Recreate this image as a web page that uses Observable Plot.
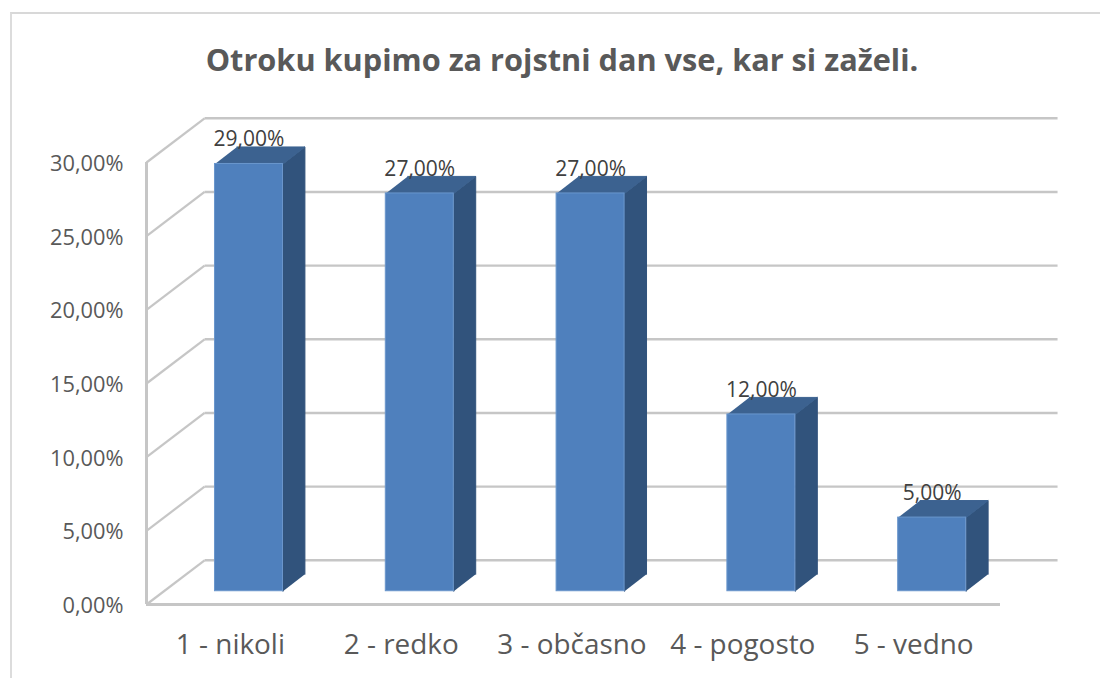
<!DOCTYPE html>
<html><head><meta charset="utf-8">
<script src="https://cdn.jsdelivr.net/npm/d3@7"></script>
<script src="https://cdn.jsdelivr.net/npm/@observablehq/plot@0.6"></script>
<style>
html,body{margin:0;background:#fff;overflow:hidden}
#frame{position:absolute;left:10px;top:12px;right:0;bottom:0;border-left:2px solid #dcdcdc;border-top:2px solid #d8d8d8}
#chart{position:absolute;left:0;top:0}
#chart svg{background:transparent;display:block}
#title{position:absolute;left:0;top:38px;width:1124px;text-align:center;font:700 30.7px "Open Sans",sans-serif;color:#595959;white-space:nowrap}
</style></head>
<body>
<div id="frame"></div>
<div id="chart"></div>
<div id="title"></div>
<script>
const titleText = "Otroku kupimo za rojstni dan vse, kar si zaželi.";
const categories = ["1 - nikoli","2 - redko","3 - občasno","4 - pogosto","5 - vedno"];
const values = [29,27,27,12,5];
const valueLabels = ["29,00%","27,00%","27,00%","12,00%","5,00%"];
const yTicks = [0,5,10,15,20,25,30];
const yTickLabels = ["0,00%","5,00%","10,00%","15,00%","20,00%","25,00%","30,00%"];

const grid = "#c6c6c6", font = "Open Sans, sans-serif";
const wallX = 0.34, wallY = 3, wallEnd = 5.334;      // depth of the back wall
const shiftX = 0.1, shiftY = 0.9, half = 0.199;      // bar position inside the floor
const depthX = 0.1285, depthY = 1.156;               // depth of a bar

const bars = categories.map((c,i)=>({c,i,v:values[i],label:valueLabels[i],
  l:i+0.5+shiftX-half, r:i+0.5+shiftX+half, b:shiftY, t:values[i]+shiftY}));
const topFaces = bars.flatMap(d=>[[d.l,d.t],[d.r,d.t],[d.r+depthX,d.t+depthY],[d.l+depthX,d.t+depthY]].map(([x,y])=>({x,y,z:d.c})));
const sideFaces = bars.flatMap(d=>[[d.r,d.b],[d.r,d.t],[d.r+depthX,d.t+depthY],[d.r+depthX,d.b+depthY]].map(([x,y])=>({x,y,z:d.c})));

const plot = Plot.plot({
  width:1100, height:678,
  marginLeft:146, marginRight:100, marginTop:162, marginBottom:74,
  style:{background:"transparent"},
  x:{type:"linear", domain:[0,5]},
  y:{domain:[0,30]},
  marks:[
    Plot.axisY({ticks:yTicks, tickFormat:(d)=>yTickLabels[yTicks.indexOf(d)], tickSize:0, tickPadding:23, dy:1.5, fontSize:21.8, fontFamily:font, color:"#595959", label:null}),
    Plot.axisX({ticks:categories.map((c,i)=>i+0.5), tickFormat:(d)=>categories[d-0.5], tickSize:0, tickPadding:30, dx:-1.5, fontSize:27.9, fontFamily:font, color:"#595959", label:null}),
    Plot.link(yTicks,{x1:wallX, x2:wallEnd, y1:d=>d+wallY, y2:d=>d+wallY, stroke:grid, strokeWidth:2.4}),
    Plot.link(yTicks,{x1:0, x2:wallX, y1:d=>d, y2:d=>d+wallY, stroke:grid, strokeWidth:2.2}),
    Plot.ruleX([0],{y1:0,y2:30,stroke:grid,strokeWidth:3}),
    Plot.ruleY([0],{x1:0,x2:5,stroke:grid,strokeWidth:3}),
    Plot.line(sideFaces,{x:"x",y:"y",z:"z",fill:"#31537c",stroke:"#31537c",strokeWidth:1,curve:"linear"}),
    Plot.line(topFaces,{x:"x",y:"y",z:"z",fill:"#3c6290",stroke:"#3c6290",strokeWidth:1,curve:"linear"}),
    Plot.rect(bars,{x1:"l",x2:"r",y1:"b",y2:"t",fill:"#4f80bd",stroke:"#6a96cc",strokeWidth:1}),
    Plot.text(bars,{x:d=>(d.l+d.r)/2,y:"t",text:"label",dy:-24.5,fontSize:21,fontFamily:font,fill:"#404040"})
  ]
});
document.getElementById("chart").append(plot);
document.getElementById("title").textContent = titleText;
</script>
</body></html>
